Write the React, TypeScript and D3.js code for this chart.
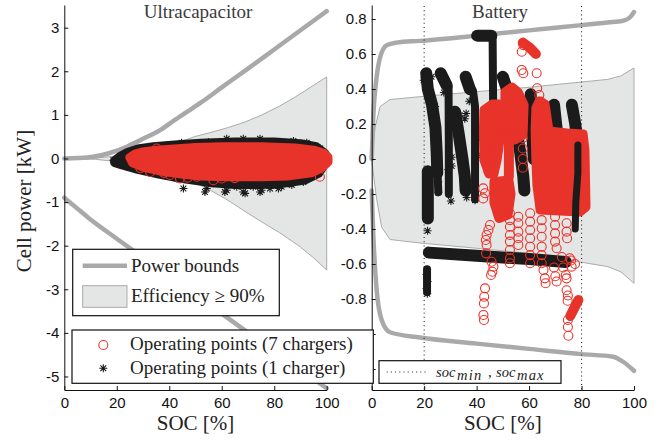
import React, { useEffect, useRef } from "react";
import * as d3 from "d3";

type Pt = [number, number];

// ---------- shared ----------
const socTicks = [0, 20, 40, 60, 80, 100];
const ucPowerTicks = [-5, -4, -3, -2, -1, 0, 1, 2, 3];
const batPowerTicks = [-1.2, -1, -0.8, -0.6, -0.4, -0.2, 0, 0.2, 0.4, 0.6, 0.8];
const batHiddenTickLabels = [-1.2, -1]; // covered by the legend box in the original
const panelTitles = ["Ultracapacitor", "Battery"];
const xLabel = "SOC [%]";
const yLabel = "Cell power [kW]";
const socLimits = [20, 80];
const legendLabels = [
  "Power bounds",
  "Efficiency \u2265 90%",
  "Operating points (7 chargers)",
  "Operating points (1 charger)",
];

// ---------- Ultracapacitor ----------
const ucUpperBound: Pt[] = [[0,0],[5,0.01],[11,0.04],[17,0.12],[23.8,0.27],[30,0.45],[36.5,0.65],[42,0.88],[47,1.08],[52,1.28],[60,1.63],[70,2.06],[80,2.5],[90,2.94],[100,3.38]];
const ucLowerBound: Pt[] = [[0,-0.9],[5,-1.15],[10,-1.4],[20,-1.84],[40,-2.7],[60,-3.56],[80,-4.42],[100,-5.27]];
const ucEffUpper: Pt[] = [[0,0],[12,0.01],[23.8,0.08],[30,0.14],[36.5,0.23],[43,0.35],[49.5,0.5],[56,0.6],[62.5,0.71],[69,0.84],[75,0.99],[82,1.2],[88,1.41],[94,1.64],[100,1.87]];
const ucEffLower: Pt[] = [[0,0],[12,-0.02],[23.8,-0.1],[30,-0.2],[36.5,-0.32],[43,-0.42],[49.5,-0.55],[56,-0.74],[62.4,-0.96],[68,-1.18],[74,-1.41],[82,-1.7],[90,-2.03],[95,-2.28],[100,-2.56]];
const ucStarCloud: Pt[] = [[19,-0.05],[21,0.05],[24,0.15],[28,0.23],[34,0.28],[42,0.32],[52,0.36],[65,0.39],[80,0.39],[90,0.35],[96,0.28],[99.5,0.12],[99.5,-0.12],[97,-0.35],[92,-0.5],[85,-0.57],[75,-0.61],[65,-0.61],[55,-0.56],[45,-0.47],[36,-0.37],[28,-0.26],[22,-0.16],[19,-0.1]];
const ucCircleCloud: Pt[] = [[25,0.02],[27,0.1],[30,0.15],[35,0.19],[42,0.22],[50,0.25],[60,0.27],[75,0.27],[88,0.24],[95,0.19],[99,0.12],[100.5,0.03],[100.5,-0.08],[98,-0.22],[94,-0.33],[85,-0.4],[75,-0.42],[62,-0.42],[52,-0.4],[44,-0.35],[36,-0.28],[30,-0.2],[26,-0.1]];
const ucStars: Pt[] = [[18.7,-0.04],[19.3,-0.08],[21.2,0.04],[23.8,-0.19],[27.6,0.19],[28.8,-0.23],[32,0.23],[33.3,-0.31],[39,0.3],[42.8,-0.46],[45.4,-0.69],[47.9,0.3],[50.5,0.34],[54.3,-0.69],[54.9,0.38],[56.8,-0.57],[61.9,-0.73],[65.7,-0.65],[68.2,-0.77],[72,-0.65],[74.6,-0.77],[78.4,-0.69],[82.8,-0.65],[86.7,-0.61],[91.1,-0.54],[61.9,0.45],[68.2,0.45],[74.6,0.45],[87.3,0.4],[92.4,0.36],[97.5,0.23],[53.6,-0.77],[61.2,-0.77],[68.9,-0.8],[75.2,-0.73],[81.6,-0.69],[24.4,-0.19],[28.8,0.23],[33.9,0.27],[44.7,0.36]];
const ucCircles: Pt[] = [[26.9,0.04],[32.7,-0.31],[40.3,-0.38],[44.1,-0.46],[50.5,-0.42],[56.8,-0.5],[97.4,-0.42],[35.2,0.23],[30.1,0.0],[29,-0.22],[38,-0.33],[47,-0.44],[60,-0.46],[65,-0.45]];

// ---------- Battery ----------
const batUpperBound: Pt[] = [[0,0],[0.6,0.24],[1.9,0.47],[3.2,0.58],[5.7,0.65],[9.5,0.665],[18.4,0.675],[40,0.705],[60,0.735],[80,0.765],[90,0.78],[95.9,0.79],[98.5,0.81],[100,0.84]];
const batLowerBound: Pt[] = [[0,-0.18],[0.6,-0.43],[1.9,-0.75],[3.8,-0.92],[7,-0.99],[18.4,-1.02],[40,-1.055],[60,-1.085],[80,-1.115],[92,-1.13],[96,-1.16],[100,-1.21]];
const batEffUpper: Pt[] = [[0,0],[1.3,0.18],[3.2,0.3],[7,0.34],[18.4,0.356],[40,0.385],[60,0.41],[80,0.44],[90,0.455],[95,0.475],[100,0.52]];
const batEffLower: Pt[] = [[0,0],[0.6,-0.08],[1.9,-0.23],[3.8,-0.39],[7,-0.46],[18.4,-0.48],[40,-0.51],[60,-0.54],[80,-0.59],[90,-0.615],[95,-0.645],[100,-0.71]];
const batStarBands: Pt[][] = [
  [[20.8,0.49],[21.4,0.40],[23,0.31],[24.3,0.18],[24.8,0.03],[25,-0.08]],
  [[21.4,-0.07],[21.4,-0.34]],
  [[26.3,0.49],[28.6,0.42]],
  [[31.8,0.27],[33.2,0.14],[34.6,0.0],[35.5,-0.1],[35.8,-0.18]],
  [[35.8,0.47],[37.4,0.40]],
  [[40.2,0.705],[45.6,0.705]],
  [[50,0.47],[52.2,0.37],[54.5,0.22],[56.5,0.05],[57.8,-0.1],[58.2,-0.18]],
  [[60.6,0.37],[61.2,0.15],[61.8,0.0]],
  [[69.5,0.31],[70.6,0.16]],
  [[69,-0.05],[69.6,-0.2]],
  [[76.3,0.31],[77.6,0.2],[78.6,0.08]],
  [[21.8,-0.535],[40,-0.553],[60,-0.572],[74,-0.588]],
];
const batStarChains: Pt[][] = [
  [[25.1,-0.08],[25.4,-0.19]],
  [[21.1,-0.63],[21.1,-0.76]],
  [[29.3,0.41],[29.4,0.1],[29.4,-0.2]],
  [[38.6,0.39],[39.4,0.3],[39.4,-0.23]],
  [[46.1,0.69],[46.3,0.3],[46.6,0.0]],
];
const batStarChainsOver: Pt[][] = [
  [[78.6,0.08],[78.6,-0.08],[77.8,-0.25],[77.6,-0.40]],
];
const batStars: Pt[] = [[21.3,-0.41],[30.5,0.01],[30.5,-0.04],[25.4,-0.13],[25.4,-0.19],[39.4,-0.235],[36,0.26],[35.5,0.23],[30.2,-0.24],[20.9,-0.66],[21.3,-0.7],[20.9,-0.74],[21.2,-0.77],[19.8,0.45],[22.8,0.47],[27.5,0.38],[24.2,0.3],[33.5,0.25],[37.2,0.33],[41.8,0.12],[40.4,0.02],[29.2,-0.06],[36.2,-0.22]];
const batCircleBlobs: Pt[][] = [
  [[42.8,0.28],[45.9,0.314],[48.9,0.314],[51.2,0.29],[51.2,0.194],[48.9,0.109],[47.8,-0.006],[46.6,-0.086],[44.7,-0.086],[42.8,-0.006],[42.6,0.166]],
  [[50.8,0.383],[53.5,0.411],[55.8,0.383],[58.1,0.309],[57.7,0.137],[54.6,0.109],[52,0.137],[50.8,0.251]],
  [[46.6,-0.13],[52.3,-0.12],[53.1,-0.2],[52,-0.32],[48.5,-0.34],[46.6,-0.25]],
  [[63.8,0.331],[66.1,0.314],[67.6,0.16],[74.5,0.149],[80.6,0.143],[81.3,0.051],[81.7,-0.274],[79.4,-0.303],[64.2,-0.291],[63,-0.149],[62.6,-0.006],[62.3,0.166],[62.6,0.291]],
];
const batCircleBands: Pt[][] = [
  [[57.6,0.665],[60,0.64],[62.6,0.6]],
  [[52.3,0.1],[52.3,-0.1]],
  [[78.8,-0.806],[75.7,-0.897]],
];
const batCircles: Pt[] = [
  [57.2,0.613],[57.8,0.651],[57.2,0.509],[57.8,0.49],[62.9,0.49],[63.1,0.404],[63.9,0.366],[64.4,0.328],
  [48.9,0.166],[52.1,0.175],[54,0.156],[57.6,0.12],[57.6,0.06],[57.6,0.0],[57.6,-0.05],
  [42.5,-0.168],[43.2,-0.196],[42.5,-0.225],[44.5,-0.07],[44.3,0.05],[44.3,0.0],
  [45.1,-0.377],[44.5,-0.406],[43.8,-0.434],[43.5,-0.463],[43.8,-0.491],[43.6,-0.539],[45.7,-0.587],[46.4,-0.615],[46,-0.644],[45.5,-0.663],
  [43.2,-0.739],[42.9,-0.787],[42.8,-0.825],[42.6,-0.891],[42.8,-0.92],
  [52.7,-0.31],[52.7,-0.349],[52.7,-0.387],[52.7,-0.434],[52.7,-0.472],[52.7,-0.52],[52.7,-0.567],[52.7,-0.596],
  [55.9,-0.33],[55.9,-0.367],[55.9,-0.415],[55.9,-0.453],[55.9,-0.491],
  [60.4,-0.31],[60.4,-0.358],[60.4,-0.406],[60.4,-0.453],[60.4,-0.501],[60.4,-0.549],[60.4,-0.596],
  [64.8,-0.349],[64.8,-0.396],[64.8,-0.444],[64.8,-0.501],[64.8,-0.549],[64.8,-0.596],[65.5,-0.634],[66,-0.682],[66.3,-0.71],
  [69.9,-0.33],[69.9,-0.377],[69.9,-0.425],[69.9,-0.472],[70.5,-0.51],
  [74.3,-0.367],[74.3,-0.415],[74.5,-0.453],[75.5,-0.567],[76.2,-0.615],[74,-0.663],[74.3,-0.682],
  [72.5,-0.56],[76,-0.58],[77.5,-0.6],[73,-0.62],[69.5,-0.62],[70,-0.67],[70.5,-0.7],
  [74.3,-0.75],[74.8,-0.78],[74.7,-0.81],[74.8,-0.92],[74.8,-0.96],[75,-1.01],
];

const RED = "#e8332a";
const STAR = "#1b1b1b";
const BOUND = "#a9a9ab";
const EFF_FILL = "#e4e5e5";
const EFF_EDGE = "#a3a3a3";
const SERIF = "Liberation Serif, Tinos, DejaVu Serif, Noto Serif, serif";
const SANS = "Liberation Sans, Arimo, Arial, Helvetica, sans-serif";

function starPath(cx: number, cy: number, r = 4): string {
  const d = r * 0.72;
  return `M${cx - r},${cy}H${cx + r}M${cx},${cy - r}V${cy + r}M${cx - d},${cy - d}L${cx + d},${cy + d}M${cx - d},${cy + d}L${cx + d},${cy - d}`;
}

export default function App() {
  const ref = useRef<SVGSVGElement | null>(null);

  useEffect(() => {
    const svg = d3.select(ref.current!);
    svg.selectAll("*").remove();
    svg.append("rect").attr("width", 670).attr("height", 443).attr("fill", "#fff");

    const panels = [
      {
        x: d3.scaleLinear().domain([0, 100]).range([64.3, 326.7]),
        y: d3.scaleLinear().domain([-5.31, 3.52]).range([390, 5]),
        yTicks: ucPowerTicks, hidden: [] as number[], upper: ucUpperBound, lower: ucLowerBound,
        effU: ucEffUpper, effL: ucEffLower, title: panelTitles[0], titleX: 198,
      },
      {
        x: d3.scaleLinear().domain([0, 100]).range([371.7, 634]),
        y: d3.scaleLinear().domain([-1.32, 0.88]).range([390, 5]),
        yTicks: batPowerTicks, hidden: batHiddenTickLabels, upper: batUpperBound, lower: batLowerBound,
        effU: batEffUpper, effL: batEffLower, title: panelTitles[1], titleX: 500,
      },
    ];

    panels.forEach((p, i) => {
      const g = svg.append("g");
      const line = d3.line<Pt>().x((d) => p.x(d[0])).y((d) => p.y(d[1]));
      const smooth = d3.line<Pt>().x((d) => p.x(d[0])).y((d) => p.y(d[1])).curve(d3.curveMonotoneX);
      const effPoly = [...p.effU, ...[...p.effL].reverse()];
      g.append("path").attr("d", line(effPoly) + "Z").attr("fill", EFF_FILL)
        .attr("stroke", EFF_EDGE).attr("stroke-width", 0.9);
      [p.upper, p.lower].forEach((b) => {
        g.append("path").attr("d", smooth(b)!).attr("fill", "none")
          .attr("stroke", BOUND).attr("stroke-width", 4.5).attr("stroke-linecap", "round");
      });

      if (i === 0) {
        g.append("path").attr("d", line(ucStarCloud) + "Z").attr("fill", STAR).attr("stroke", STAR)
          .attr("stroke-width", 8).attr("stroke-linejoin", "round");
        g.append("g").selectAll("path").data(ucStars).join("path")
          .attr("d", (d) => starPath(p.x(d[0]), p.y(d[1])))
          .attr("stroke", STAR).attr("stroke-width", 1.1).attr("fill", "none");
        g.append("path").attr("d", line(ucCircleCloud) + "Z").attr("fill", RED).attr("stroke", RED)
          .attr("stroke-width", 9).attr("stroke-linejoin", "round");
        g.append("g").selectAll("circle").data(ucCircles).join("circle")
          .attr("cx", (d) => p.x(d[0])).attr("cy", (d) => p.y(d[1])).attr("r", 4.5)
          .attr("fill", "none").attr("stroke", RED).attr("stroke-width", 1.1);
      } else {
        socLimits.forEach((s) => {
          g.append("line").attr("x1", p.x(s)).attr("x2", p.x(s)).attr("y1", 6).attr("y2", 390)
            .attr("stroke", "#222").attr("stroke-width", 1.1).attr("stroke-dasharray", "1,3.2");
        });
        const streak = (data: Pt[][], color: string, w: number) =>
          g.append("g").selectAll("path").data(data).join("path").attr("d", (d) => line(d)!)
            .attr("fill", "none").attr("stroke", color).attr("stroke-width", w)
            .attr("stroke-linecap", "round").attr("stroke-linejoin", "round");
        streak(batStarBands, STAR, 12);
        streak(batStarChains, STAR, 8);
        g.append("g").selectAll("path").data(batStars).join("path")
          .attr("d", (d) => starPath(p.x(d[0]), p.y(d[1])))
          .attr("stroke", STAR).attr("stroke-width", 1.1).attr("fill", "none");
        g.append("g").selectAll("path").data(batCircleBlobs).join("path")
          .attr("d", (d) => line(d) + "Z").attr("fill", RED).attr("stroke", RED)
          .attr("stroke-width", 9).attr("stroke-linejoin", "round");
        streak(batCircleBands, RED, 10);
        g.append("g").selectAll("circle").data(batCircles).join("circle")
          .attr("cx", (d) => p.x(d[0])).attr("cy", (d) => p.y(d[1])).attr("r", 4.5)
          .attr("fill", "none").attr("stroke", RED).attr("stroke-width", 1.1);
        streak(batStarChainsOver, STAR, 7);
      }

      const yAxis = d3.axisLeft(p.y).tickValues(p.yTicks).tickSize(-4).tickSizeOuter(0)
        .tickPadding(5).tickFormat((d) => (p.hidden.includes(+d) ? "" : String(+(+d).toFixed(2))));
      const xAxis = d3.axisBottom(p.x).tickValues(socTicks).tickSize(-4).tickSizeOuter(0)
        .tickPadding(7).tickFormat((d) => String(d));
      const ya = g.append("g").attr("transform", `translate(${p.x(0)},0)`).call(yAxis);
      const xa = g.append("g").attr("transform", `translate(0,390)`).call(xAxis);
      [ya, xa].forEach((a) => {
        a.attr("font-family", SANS).attr("font-size", 15);
        a.selectAll("text").attr("fill", "#111");
        a.selectAll("line").attr("stroke", "#111");
        a.select(".domain").attr("stroke", "#111");
      });

      g.append("text").attr("x", p.titleX).attr("y", 18).attr("text-anchor", "middle")
        .attr("font-family", SERIF).style("font-family", SERIF).attr("font-size", 19).attr("fill", "#3a3a3a").text(p.title);
      g.append("text").attr("x", (p.x(0) + p.x(100)) / 2).attr("y", 430).attr("text-anchor", "middle")
        .attr("font-family", SERIF).style("font-family", SERIF).attr("font-size", 21).attr("fill", "#222").text(xLabel);
    });

    svg.append("text").attr("transform", "translate(31,201) rotate(-90)").attr("text-anchor", "middle")
      .style("font-family", SERIF).attr("font-size", 21).attr("fill", "#222").text(yLabel);

    const l1 = svg.append("g");
    l1.append("rect").attr("x", 72.7).attr("y", 249.3).attr("width", 206.6).attr("height", 66.4)
      .attr("fill", "#fff").attr("stroke", "#111").attr("stroke-width", 1.2);
    l1.append("line").attr("x1", 82.7).attr("x2", 127).attr("y1", 265.7).attr("y2", 265.7)
      .attr("stroke", BOUND).attr("stroke-width", 4.5);
    l1.append("rect").attr("x", 82.7).attr("y", 285.7).attr("width", 44.3).attr("height", 21.6)
      .attr("fill", EFF_FILL).attr("stroke", EFF_EDGE).attr("stroke-width", 0.9);
    l1.append("text").attr("x", 131).attr("y", 272).style("font-family", SERIF).attr("font-size", 19)
      .attr("fill", "#222").text(legendLabels[0]);
    l1.append("text").attr("x", 131).attr("y", 302).style("font-family", SERIF).attr("font-size", 19)
      .attr("fill", "#222").text(legendLabels[1]);

    const l2 = svg.append("g");
    l2.append("rect").attr("x", 72).attr("y", 330).attr("width", 301.3).attr("height", 53.3)
      .attr("fill", "#fff").attr("stroke", "#111").attr("stroke-width", 1.2);
    l2.append("circle").attr("cx", 103.3).attr("cy", 345).attr("r", 4.5).attr("fill", "none")
      .attr("stroke", RED).attr("stroke-width", 1.1);
    l2.append("path").attr("d", starPath(103.3, 368.3)).attr("stroke", STAR).attr("stroke-width", 1.1);
    l2.append("text").attr("x", 130).attr("y", 350).style("font-family", SERIF).attr("font-size", 19)
      .attr("fill", "#222").text(legendLabels[2]);
    l2.append("text").attr("x", 130).attr("y", 374).style("font-family", SERIF).attr("font-size", 19)
      .attr("fill", "#222").text(legendLabels[3]);

    const l3 = svg.append("g");
    l3.append("rect").attr("x", 379).attr("y", 360.7).attr("width", 182).attr("height", 22.6)
      .attr("fill", "#fff").attr("stroke", "#111").attr("stroke-width", 1.2);
    l3.append("line").attr("x1", 386.7).attr("x2", 428).attr("y1", 372).attr("y2", 372)
      .attr("stroke", "#222").attr("stroke-width", 1.1).attr("stroke-dasharray", "1,3.2");
    const mathText = (x: number, y: number, size: number, s: string, italic = true, spacing = 0) =>
      l3.append("text").attr("x", x).attr("y", y).style("font-family", SERIF)
        .attr("font-style", italic ? "italic" : "normal").attr("font-size", size)
        .attr("letter-spacing", spacing).attr("fill", "#222").text(s);
    mathText(436, 376.5, 14.5, "soc");
    mathText(457, 379.5, 14.5, "min", true, 1.2);
    mathText(488, 376.5, 15, ",", false);
    mathText(496, 376.5, 14.5, "soc");
    mathText(517, 379.5, 14.5, "max", true, 1.2);
  }, []);

  return (
    <svg
      ref={ref}
      width={670}
      height={443}
      style={{ position: "absolute", left: 0, top: 0, display: "block" }}
    />
  );
}
